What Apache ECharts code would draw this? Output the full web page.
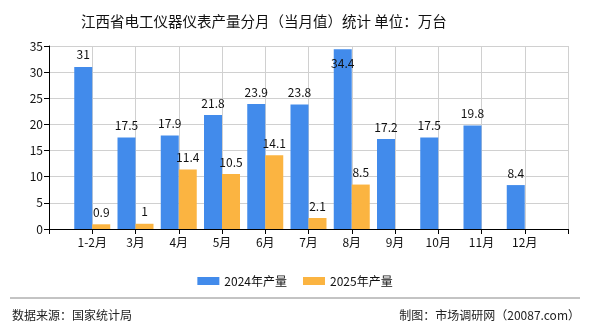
<!DOCTYPE html>
<html>
<head>
<meta charset="utf-8">
<script src="https://cdn.jsdelivr.net/npm/echarts@6/dist/echarts.min.js"></script>
<style>html,body{margin:0;padding:0;background:#fff;}#c{width:590px;height:330px;}</style>
</head>
<body>
<div id="c"></div>
<script>
const titleText = '江西省电工仪器仪表产量分月（当月值）统计 单位：万台';
const categories = ['1-2月','3月','4月','5月','6月','7月','8月','9月','10月','11月','12月'];
const series2024Name = '2024年产量';
const series2025Name = '2025年产量';
const values2024 = [31, 17.5, 17.9, 21.8, 23.9, 23.8, 34.4, 17.2, 17.5, 19.8, 8.4];
const values2025 = [0.9, 1, 11.4, 10.5, 14.1, 2.1, 8.5, null, null, null, null];
const yTicks = [0, 5, 10, 15, 20, 25, 30, 35];
const sourceText = '数据来源：国家统计局';
const creditText = '制图：市场调研网（20087.com）';

const FONT = '"Noto Sans CJK SC", "Noto Sans", sans-serif';
const yMax = yTicks[yTicks.length - 1];
const axisCats = [''].concat(categories, ['']);
function toData(arr) {
  const d = ['-'];
  arr.forEach(v => {
    if (v === null) { d.push('-'); return; }
    if (v >= yMax - 2) d.push({ value: v, label: { position: 'insideTop', offset: [0, 2] } });
    else d.push(v);
  });
  d.push('-');
  return d;
}

const chart = echarts.init(document.getElementById('c'));
chart.setOption({
  animation: false,
  backgroundColor: '#fff',
  title: {
    text: titleText, left: 76, top: 9,
    textStyle: { fontFamily: FONT, fontSize: 14.5, fontWeight: 'normal', color: '#111' }
  },
  legend: {
    data: [series2024Name, series2025Name],
    left: 'center', top: 270, icon: 'rect', itemWidth: 22, itemHeight: 8, itemGap: 16,
    textStyle: { fontFamily: FONT, fontSize: 12, color: '#111' }
  },
  grid: { left: 49, right: 22, top: 46, bottom: 101 },
  xAxis: {
    type: 'category', boundaryGap: false, data: axisCats,
    axisLine: { lineStyle: { color: '#000' } },
    axisTick: { interval: 0, length: 5, lineStyle: { color: '#000' } },
    axisLabel: { interval: 0, fontFamily: FONT, fontSize: 12, color: '#111', margin: 7 },
    splitLine: { show: true, interval: 0, lineStyle: { color: '#d0d0d0' } }
  },
  yAxis: {
    type: 'value', min: 0, max: yMax, interval: 5,
    axisLine: { show: true, lineStyle: { color: '#000' } },
    axisTick: { show: true, length: 5, lineStyle: { color: '#000' } },
    axisLabel: { fontFamily: FONT, fontSize: 12, color: '#111', margin: 6 },
    splitLine: { lineStyle: { color: '#d0d0d0' } }
  },
  series: [
    {
      name: series2024Name, type: 'bar', data: toData(values2024), barWidth: 18, barGap: '0%',
      itemStyle: { color: '#428BEB' },
      label: { show: true, position: 'top', fontFamily: FONT, fontSize: 12, color: '#111', distance: 6 }
    },
    {
      name: series2025Name, type: 'bar', data: toData(values2025), barWidth: 18, barGap: '0%',
      itemStyle: { color: '#FBB441' },
      label: { show: true, position: 'top', fontFamily: FONT, fontSize: 12, color: '#111', distance: 6 }
    }
  ],
  graphic: [
    { type: 'line', shape: { x1: 10, y1: 298, x2: 580, y2: 298 }, style: { stroke: '#888', lineWidth: 1 } },
    { type: 'text', left: 12, top: 309, style: { text: sourceText, fontFamily: FONT, fontSize: 12, fill: '#222' } },
    { type: 'text', right: 10, top: 309, style: { text: creditText, fontFamily: FONT, fontSize: 12, fill: '#222' } }
  ]
});
</script>
</body>
</html>
